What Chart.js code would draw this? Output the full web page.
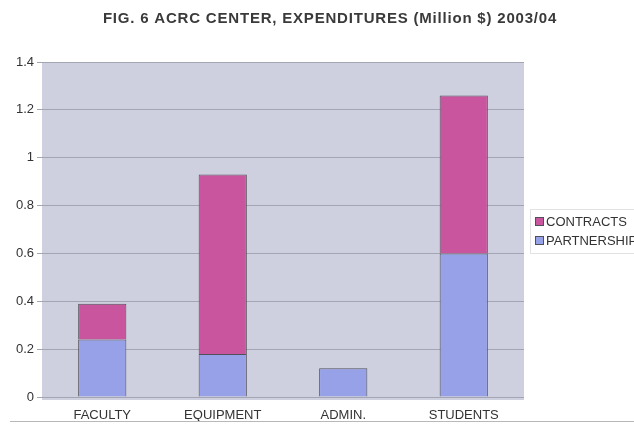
<!DOCTYPE html>
<html>
<head>
<meta charset="utf-8">
<script src="https://cdn.jsdelivr.net/npm/chart.js@4"></script>
<style>
  html, body { margin: 0; padding: 0; background: #fff; }
  #wrap { width: 634px; height: 424px; position: relative; }
</style>
</head>
<body>
<div id="wrap"><canvas id="chart" width="634" height="424"></canvas></div>
<script>
// Expenditures (million $)
const categories = ['FACULTY', 'EQUIPMENT', 'ADMIN.', 'STUDENTS'];
const partnerships = [0.24, 0.18, 0.12, 0.60];
const contracts = [0.15, 0.75, 0, 0.66];
const yTicks = [0, 0.2, 0.4, 0.6, 0.8, 1, 1.2, 1.4];
const seriesNames = ['CONTRACTS', 'PARTNERSHIPS'];
const titleText = 'FIG. 6 ACRC CENTER, EXPENDITURES (Million $) 2003/04';

const FONT = '"Liberation Sans", Arial, sans-serif';
const colors = {
  contracts: '#c9559f',
  partnerships: '#96a1e8',
  barBorder: '#50505a',
  plotBg: '#cfd0df',
  grid: '#a4a5b2',
  text: '#333333'
};

// plot background, title, legend and the bottom rule
const decor = {
  id: 'decor',
  beforeDraw(chart) {
    const { ctx, chartArea: a } = chart;
    ctx.save();
    ctx.fillStyle = colors.plotBg;
    ctx.fillRect(a.left, a.top, a.right - a.left, a.bottom - a.top + 3);
    ctx.restore();
  },
  afterDraw(chart) {
    const { ctx } = chart;
    ctx.save();
    ctx.fillStyle = '#3a3a3a';
    ctx.font = 'bold 15px ' + FONT;
    ctx.letterSpacing = '0.8px';
    ctx.textAlign = 'center';
    ctx.textBaseline = 'middle';
    ctx.fillText(titleText, 330, 19);
    ctx.letterSpacing = '0px';

    // legend box
    ctx.strokeStyle = '#e2e2e2';
    ctx.lineWidth = 1;
    ctx.strokeRect(530.5, 209.5, 110, 44);
    const sw = [colors.contracts, colors.partnerships];
    ctx.font = '13px ' + FONT;
    ctx.textAlign = 'left';
    seriesNames.forEach((name, i) => {
      const y = 221 + i * 19;
      ctx.fillStyle = sw[i];
      ctx.fillRect(535, y - 4, 9, 9);
      ctx.strokeStyle = colors.barBorder;
      ctx.strokeRect(535.5, y - 3.5, 8, 8);
      ctx.fillStyle = colors.text;
      ctx.fillText(name, 546, y + 1);
    });

    ctx.strokeStyle = '#b8b8b8';
    ctx.beginPath();
    ctx.moveTo(10, 421.5);
    ctx.lineTo(634, 421.5);
    ctx.stroke();
    ctx.restore();
  }
};

new Chart(document.getElementById('chart'), {
  type: 'bar',
  data: {
    labels: categories,
    datasets: [
      {
        label: seriesNames[1],
        data: partnerships,
        backgroundColor: colors.partnerships,
        borderColor: colors.barBorder,
        borderWidth: 1,
        barPercentage: 0.4,
        categoryPercentage: 1
      },
      {
        label: seriesNames[0],
        data: contracts,
        backgroundColor: colors.contracts,
        borderColor: colors.barBorder,
        borderWidth: 1,
        barPercentage: 0.4,
        categoryPercentage: 1
      }
    ]
  },
  options: {
    responsive: false,
    animation: false,
    layout: { padding: { top: 62, right: 110, bottom: 0, left: 0 } },
    plugins: {
      legend: { display: false },
      title: { display: false },
      tooltip: { enabled: false }
    },
    scales: {
      x: {
        stacked: true,
        grid: { display: false },
        border: { display: false },
        ticks: {
          color: colors.text,
          font: { family: FONT, size: 13 },
          padding: 3,
          maxRotation: 0
        },
        afterFit(scale) { scale.height = 27; }
      },
      y: {
        stacked: true,
        min: 0,
        max: 1.4,
        afterBuildTicks(scale) { scale.ticks = yTicks.map(v => ({ value: v })); },
        grid: { color: colors.grid, drawTicks: true, tickLength: 5 },
        border: { display: false },
        ticks: {
          color: colors.text,
          font: { family: FONT, size: 13 },
          padding: 3,
          callback: v => String(v)
        },
        afterFit(scale) { scale.width = 42; }
      }
    }
  },
  plugins: [decor]
});
</script>
</body>
</html>
